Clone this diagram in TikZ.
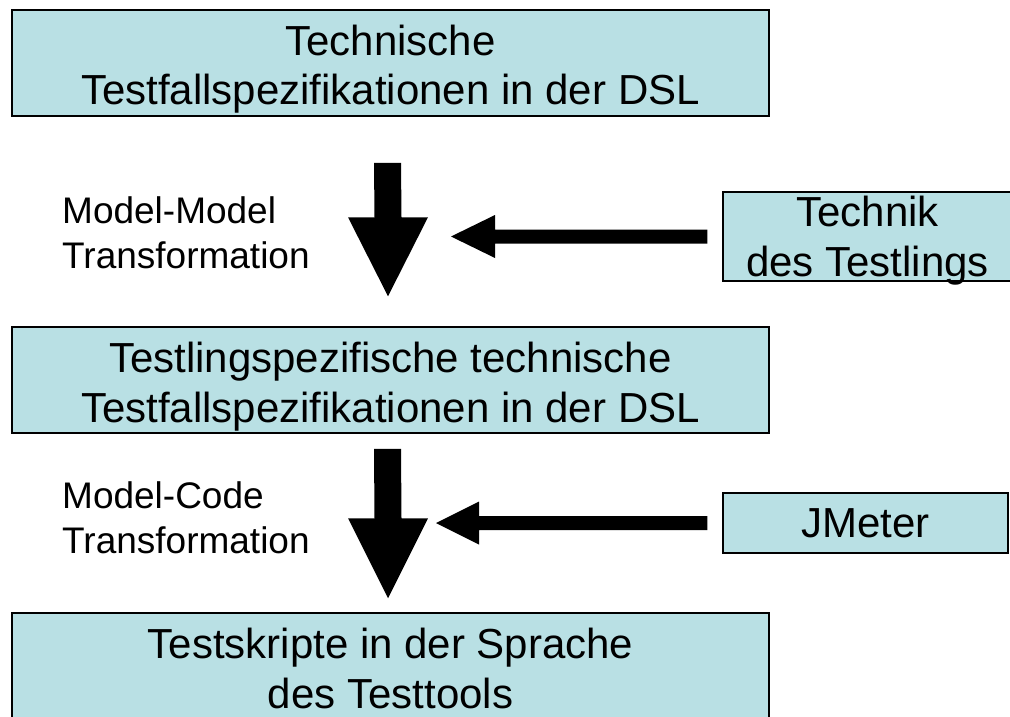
\documentclass[tikz,border=0pt]{standalone}
\usepackage{fontspec}
\setmainfont{Liberation Sans}
\usetikzlibrary{calc}
\definecolor{boxfill}{RGB}{185,224,228}

% block arrow pointing down: #1 tail, #2 tip, #3 half shaft, #4 head length, #5 half head
\newcommand\downblock[5]{%
  \fill[black] ($(#1)+(-#3,0)$) -- ($(#1)+(#3,0)$) -- ($(#2)+(#3,-#4)$)
    -- ($(#2)+(#5,-#4)$) -- (#2) -- ($(#2)+(-#5,-#4)$) -- ($(#2)+(-#3,-#4)$) -- cycle;}
% block arrow pointing left
\newcommand\leftblock[5]{%
  \fill[black] ($(#1)+(0,-#3)$) -- ($(#1)+(0,#3)$) -- ($(#2)+(#4,#3)$)
    -- ($(#2)+(#4,#5)$) -- (#2) -- ($(#2)+(#4,-#5)$) -- ($(#2)+(#4,-#3)$) -- cycle;}

\tikzset{
  stagebox/.style={draw=black, line width=1.5pt, fill=boxfill, inner sep=0pt,
    align=center, font=\fontsize{42}{50}\selectfont,
    minimum width=757pt, minimum height=106pt, text height=86pt, text depth=2pt},
  sidebox/.style={draw=black, line width=1.5pt, fill=boxfill, inner sep=0pt,
    align=center, font=\fontsize{42}{50}\selectfont},
  steplabel/.style={anchor=base west, inner sep=0pt, align=left,
    font=\fontsize{37}{45}\selectfont},
}

\begin{document}
\begin{tikzpicture}[x=1pt, y=-1pt]
\useasboundingbox (0,0) rectangle (1010,717);

% main stages
\node[stagebox] (spec) at (390.5,63) {Technische\\Testfallspezifikationen in der DSL};
\node[stagebox] (tspec) at (390.5,380) {Testlingspezifische technische\\Testfallspezifikationen in der DSL};
\node[stagebox] (script) at (390.5,666) {Testskripte in der Sprache\\des Testtools};

% inputs
\node[sidebox, minimum width=289pt, minimum height=89pt, text height=81pt, text depth=2pt]
  (tech) at (867.5,236.5) {Technik\\des Testlings};
\node[sidebox, minimum width=285pt, minimum height=60pt, text height=30pt, text depth=2pt]
  (jm) at (865.5,523) {JMeter};

% transformation labels
\node[steplabel] (mm) at (62,268) {Model-Model\\Transformation};
\node[steplabel] (mc) at (62,553) {Model-Code\\Transformation};

% arrow end points
\coordinate (d1a) at ($(spec.south)+(-3,46)$);
\coordinate (d1b) at ($(tspec.north)+(-2.5,-30)$);
\coordinate (d2a) at ($(tspec.south)+(-3,15)$);
\coordinate (d2b) at ($(script.north)+(-2.5,-14)$);
\coordinate (h1a) at ($(tech.west)+(-15,0)$);
\coordinate (h1b) at (451,236.5);
\coordinate (h2a) at ($(jm.west)+(-15,0)$);
\coordinate (h2b) at (436,523);

\downblock{d1a}{d1b}{13.5}{79}{40}
\downblock{d2a}{d2b}{13.5}{80}{40}
\leftblock{h1a}{h1b}{7}{44}{21.5}
\leftblock{h2a}{h2b}{7}{43}{21.5}
\end{tikzpicture}
\end{document}
